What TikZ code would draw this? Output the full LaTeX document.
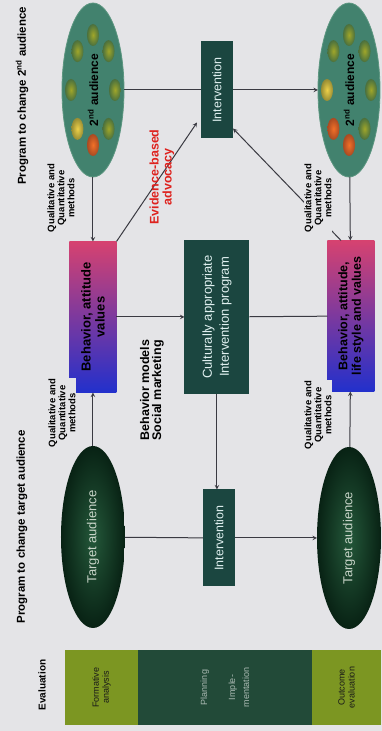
\documentclass[tikz,border=0pt]{standalone}
\usepackage{fontspec}
\setmainfont{Liberation Sans}
\usepackage{tikz}
\usetikzlibrary{shapes.geometric,positioning}

\definecolor{paper}{RGB}{228,228,231}
\definecolor{olive}{RGB}{124,150,34}
\definecolor{planfill}{RGB}{34,74,56}
\definecolor{boxteal}{RGB}{27,70,64}
\definecolor{tadark}{RGB}{8,34,20}
\definecolor{talight}{RGB}{36,88,58}
\definecolor{tatext}{RGB}{200,212,200}
\definecolor{audteal}{RGB}{66,130,110}
\definecolor{audedge}{RGB}{92,150,128}
\definecolor{behpink}{RGB}{214,66,112}
\definecolor{behblue}{RGB}{34,48,204}
\definecolor{advred}{RGB}{222,34,30}
\definecolor{linegrey}{RGB}{58,58,66}
\definecolor{greenin}{RGB}{160,166,42}
\definecolor{greenout}{RGB}{74,112,62}
\definecolor{yellowin}{RGB}{238,208,72}
\definecolor{yellowout}{RGB}{150,140,52}
\definecolor{orangein}{RGB}{242,112,40}
\definecolor{orangeout}{RGB}{168,74,34}

\begin{document}
\begin{tikzpicture}[>=stealth, x=1pt, y=1pt]
\tikzstyle{every node}=[inner sep=2pt, outer sep=0pt, align=center];
\tikzstyle{conn}=[draw=linegrey, line width=1pt];
\tikzstyle{evalbox}=[fill=olive, minimum width=75, text=black!90, font=\fontsize{9}{10}\selectfont];
\tikzstyle{planbox}=[fill=planfill, minimum width=75, minimum height=174, text=white!62!planfill, font=\fontsize{9}{14}\selectfont];
\tikzstyle{tabox}=[ellipse, minimum width=182, minimum height=64, inner color=talight, outer color=tadark, text=tatext, font=\fontsize{13}{15}\selectfont];
\tikzstyle{audbox}=[ellipse, minimum width=174, minimum height=62, fill=audteal, draw=audedge, line width=0.8pt];
\tikzstyle{intbox}=[fill=boxteal, minimum width=97, minimum height=32, text=white!88!teal, font=\fontsize{12.5}{14}\selectfont];
% the scope turns the shape, not the shading: colours go top to bottom on the page
\tikzstyle{behbox}=[rectangle, minimum width=151, minimum height=47, top color=behpink, bottom color=behblue, text=black, font=\fontsize{13}{14}\selectfont\bfseries];
\tikzstyle{qual}=[fill=paper, inner sep=1pt, font=\fontsize{9.5}{10}\selectfont\bfseries];
\tikzstyle{rowlbl}=[font=\fontsize{11.5}{13}\selectfont\bfseries];
\tikzset{blob/.style={ellipse, minimum width=22, minimum height=12, inner sep=0pt, inner color=#1in, outer color=#1out}};

\begin{scope}[rotate=90, transform shape]
\fill[paper] (0,0) rectangle (731,382);
\useasboundingbox (0,0) rectangle (731,382);

% evaluation strip
    \node[font=\fontsize{10}{11}\selectfont\bfseries] (evallbl) at (46,340) {Evaluation};
    \node[evalbox, minimum height=73] (form) at (43.5,280.5) {Formative\\analysis};
    \node[planbox, below=0pt of form] (plan) {Planning\\[14pt]Imple-\\mentation};
    \node[evalbox, minimum height=69, below=0pt of plan] (outc) {Outcome\\evaluation};

% row labels
    \node[rowlbl] (row1) at (204,360) {Program to change target audience};
    \node[rowlbl] (row2) at (635,360) {Program to change 2\textsuperscript{nd} audience};

% audiences
    \node[tabox] (tga) at (194,289) {Target audience};
    \node[tabox] (tgb) at (193,33) {Target audience};
    \node[audbox] (auda) at (641,289) {};
    \node[audbox] (audb) at (641,33) {};
    \foreach \ang/\col in {0/green,45/green,-45/green,90/green,-90/green,135/yellow,-135/green,180/orange}
        \node[blob=\col] (ba\ang) at ([shift={(\ang:55 and 22)}]auda.center) {};
    \foreach \ang/\col in {0/green,45/green,-45/green,90/yellow,-90/green,135/orange,-135/green,180/orange}
        \node[blob=\col] (bb\ang) at ([shift={(\ang:55 and 22)}]audb.center) {};
    \node[font=\fontsize{12}{13}\selectfont\bfseries] (audalbl) at (auda) {2\textsuperscript{nd} audience};
    \node[font=\fontsize{12}{13}\selectfont\bfseries] (audblbl) at (audb) {2\textsuperscript{nd} audience};

% behaviour boxes
    \node[behbox] (beha) at (414,289) {Behavior, attitude\\values};
    \node[behbox, font=\fontsize{12.5}{13.5}\selectfont\bfseries] (behb) at (415,31) {Behavior, attitude,\\life style and values};

% programme and interventions
    \node[intbox, minimum width=154, minimum height=65, font=\fontsize{13}{17}\selectfont] (prog) at (414,165) {Culturally appropriate\\Intervention program};
    \node[intbox] (inta) at (193,163) {Intervention};
    \node[intbox] (intb) at (641,165) {Intervention};

% edges
    \draw[conn,->] (auda) -- (beha);
    \draw[conn,->] (tga) -- (beha);
    \draw[conn,->] (beha) -- (prog);
    \draw[conn] (prog) -- (behb);
    \draw[conn,->] (prog) -- (prog.west -| inta.east);
    \draw[conn] (tga) -- (inta);
    \draw[conn,->] (inta) -- (tgb);
    \draw[conn] (auda) -- (intb);
    \draw[conn,->] (intb) -- (audb);
    \draw[conn,->] (audb) -- (behb);
    \draw[conn,->] (tgb) -- (behb);
    \draw[conn,->] (beha.south east) -- ([xshift=16pt,yshift=4pt]intb.north west);
    \draw[conn,->] ([yshift=10pt]behb.east) -- ([xshift=10pt]intb.south west);

% side labels
    \node[qual] (qa1) at (318,320) {Qualitative and\\Quantitative\\methods};
    \node[qual] (qa2) at (533,321) {Qualitative and\\Quantitative\\methods};
    \node[qual] (qb1) at (316,64) {Qualitative and\\Quantitative\\methods};
    \node[qual] (qb2) at (533,64) {Qualitative and\\Quantitative\\methods};
    \node[text=advred, font=\fontsize{12.5}{13}\selectfont\bfseries] (advo) at (554,220) {Evidence-based\\advocacy};
    \node[font=\fontsize{12.5}{12}\selectfont\bfseries, align=left] (models) at (341,230) {Behavior models\\Social marketing};
\end{scope}
\end{tikzpicture}
\end{document}
